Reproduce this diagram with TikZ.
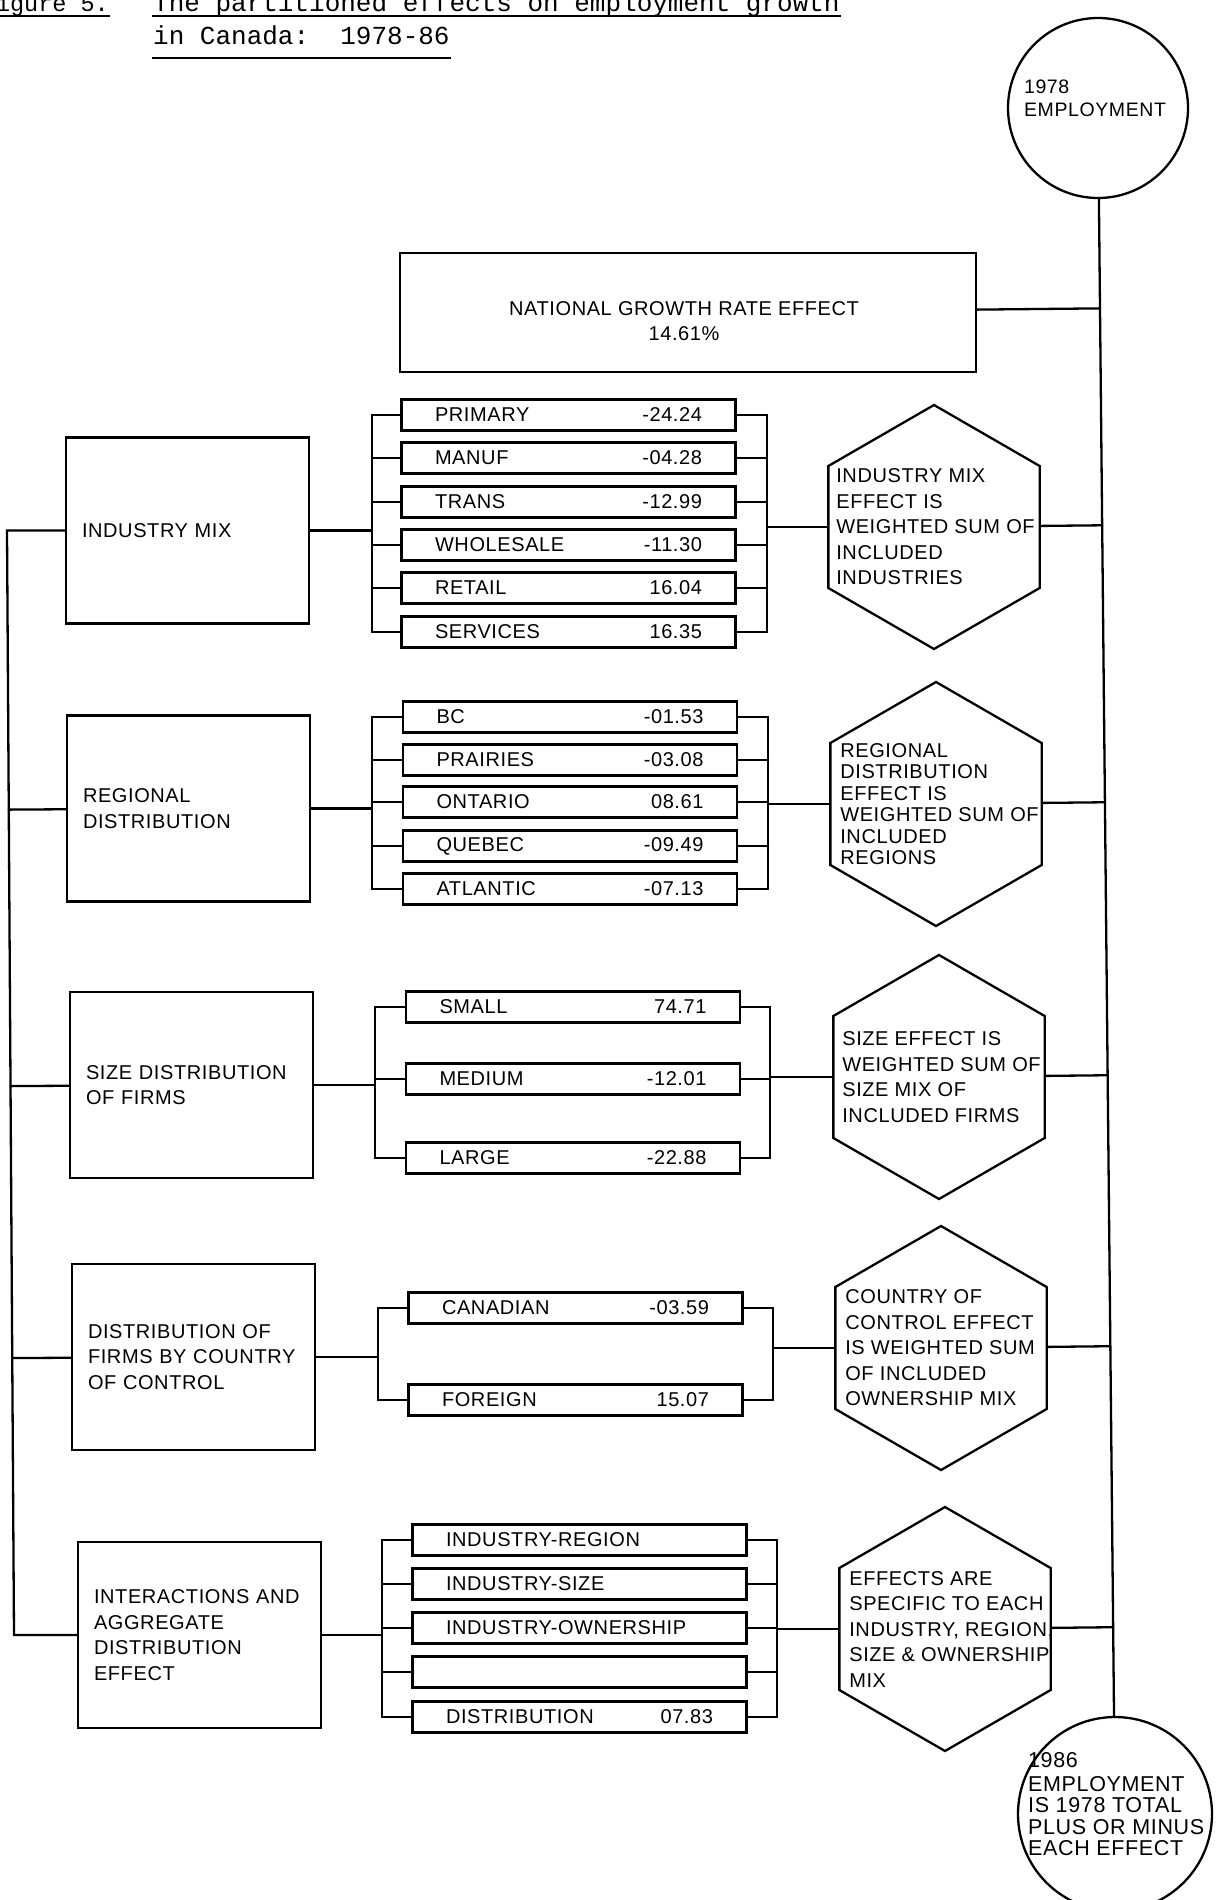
\documentclass[tikz,border=0pt]{standalone}
\usepackage{fontspec}
\setmainfont{Liberation Sans}[LetterSpace=3]
\newfontfamily\titlefont{Liberation Mono}
\usetikzlibrary{shapes.geometric,calc}

\begin{document}
\begin{tikzpicture}[x=1pt, y=-1pt, line width=2.3pt, line cap=round,
	every node/.style={font=\fontsize{20}{25.5}\selectfont},
	titletext/.style={inner sep=0pt, font=\titlefont\fontsize{26}{33}\selectfont},
	mainbox/.style={draw, rectangle, minimum width=243pt, minimum height=186pt, text width=211pt, inner xsep=16pt, align=left},
	subbox/.style={draw, rectangle, minimum height=31pt, text width=267pt, inner xsep=33.5pt, inner ysep=0pt},
	hexshape/.style={draw, regular polygon, regular polygon sides=6, shape border rotate=30, minimum size=244pt, inner sep=0pt},
	hextext/.style={inner sep=0pt, align=left, anchor=west},
	roundshape/.style={draw, circle, inner sep=0pt}]
	\useasboundingbox (0,0) rectangle (1220,1900);
	
	% 1. 标题
	\node[titletext, anchor=base east, font=\titlefont\fontsize{23.5}{33}\selectfont] (fig) at (110,12) {Figure 5.};
	\node[titletext, anchor=base west] (tl1) at (152,12) {The partitioned effects on employment growth};
	\node[titletext, anchor=base west] (tl2) at (152,45) {in Canada:\ \ 1978-86};
	\draw[line width=1.6pt, line cap=butt] ([yshift=-4pt]fig.base west) -- ([yshift=-4pt]fig.base east);
	\draw[line width=1.6pt, line cap=butt] ([yshift=-4pt]tl1.base west) -- ([yshift=-4pt]tl1.base east);
	\draw[line width=1.6pt, line cap=butt] ([yshift=-13pt]tl2.base west) -- ([yshift=-13pt]tl2.base east);
	
	% 2. 两端圆与总线
	\node[roundshape, minimum size=180pt] (e78) at (1098,108) {};
	\node[hextext, font=\fontsize{19.5}{23}\selectfont] (e78t) at (1023,98) {1978\\EMPLOYMENT};
	\node[roundshape, minimum size=194pt] (e86) at (1115,1814) {};
	\node[hextext, font=\fontsize{21.5}{21.5}\selectfont] (e86t) at (1027,1804) {1986\\[2.5pt]EMPLOYMENT\\IS 1978 TOTAL\\PLUS OR MINUS\\EACH EFFECT};
	\draw (e78) -- (e86);
	
	\node[draw, rectangle, minimum width=576pt, minimum height=119pt] (nat) at (688,312.5) {};
	\node[align=center, inner sep=0pt] (natt) at (684,321) {NATIONAL GROWTH RATE EFFECT\\14.61\%};
	\draw (nat) -- ($(e78)!(nat)!(e86)$);
	
	% 3. 左侧主框
	\node[mainbox] (bI) at (187.5,530.5) {INDUSTRY MIX};
	\node[mainbox] (bR) at (188.5,808.5) {REGIONAL\\DISTRIBUTION};
	\node[mainbox] (bS) at (191.5,1085) {SIZE DISTRIBUTION\\OF FIRMS};
	\node[mainbox] (bC) at (193.5,1357) {DISTRIBUTION OF\\FIRMS BY COUNTRY\\OF CONTROL};
	\node[mainbox] (bX) at (199.5,1635) {INTERACTIONS AND\\AGGREGATE\\DISTRIBUTION\\EFFECT};
	\coordinate (lbA) at (7,530.5);
	\coordinate (lbB) at (14,1635);
	\draw (bI) -- (lbA) -- (lbB) -- (bX);
	\draw (bR) -- ($(lbA)!(bR)!(lbB)$);
	\draw (bS) -- ($(lbA)!(bS)!(lbB)$);
	\draw (bC) -- ($(lbA)!(bC)!(lbB)$);
	
	% 4. 六边形说明
	\node[hexshape] (hI) at (934,527) {};
	\node[hextext] (hIt) at ([xshift=8pt]hI.west) {INDUSTRY MIX\\EFFECT IS\\WEIGHTED SUM OF\\INCLUDED\\INDUSTRIES};
	\node[hexshape] (hR) at (936,804) {};
	\node[hextext, font=\fontsize{20}{21.5}\selectfont] (hRt) at ([xshift=10pt]hR.west) {REGIONAL\\DISTRIBUTION\\EFFECT IS\\WEIGHTED SUM OF\\INCLUDED\\REGIONS};
	\node[hexshape] (hS) at (939,1077) {};
	\node[hextext] (hSt) at ([xshift=9pt]hS.west) {SIZE EFFECT IS\\WEIGHTED SUM OF\\SIZE MIX OF\\INCLUDED FIRMS};
	\node[hexshape] (hC) at (941,1348) {};
	\node[hextext] (hCt) at ([xshift=10pt]hC.west) {COUNTRY OF\\CONTROL EFFECT\\IS WEIGHTED SUM\\OF INCLUDED\\OWNERSHIP MIX};
	\node[hexshape] (hX) at (945,1629) {};
	\node[hextext] (hXt) at ([xshift=10pt]hX.west) {EFFECTS ARE\\SPECIFIC TO EACH\\INDUSTRY, REGION,\\SIZE \& OWNERSHIP\\MIX};
	\draw (hI) -- ($(e78)!(hI)!(e86)$);
	\draw (hR) -- ($(e78)!(hR)!(e86)$);
	\draw (hS) -- ($(e78)!(hS)!(e86)$);
	\draw (hC) -- ($(e78)!(hC)!(e86)$);
	\draw (hX) -- ($(e78)!(hX)!(e86)$);
	
	% 5. 产业
	\coordinate (iL) at (372,0);
	\coordinate (iR) at (767,0);
	\node[subbox] (i1) at (568.5,415) {PRIMARY\hfill-24.24};
	\node[subbox] (i2) at (568.5,458) {MANUF\hfill-04.28};
	\node[subbox] (i3) at (568.5,502) {TRANS\hfill-12.99};
	\node[subbox] (i4) at (568.5,545) {WHOLESALE\hfill-11.30};
	\node[subbox] (i5) at (568.5,588) {RETAIL\hfill16.04};
	\node[subbox] (i6) at (568.5,632) {SERVICES\hfill16.35};
	\draw (iL|-i1) -- (i1) -- (iR|-i1);
	\draw (iL|-i2) -- (i2) -- (iR|-i2);
	\draw (iL|-i3) -- (i3) -- (iR|-i3);
	\draw (iL|-i4) -- (i4) -- (iR|-i4);
	\draw (iL|-i5) -- (i5) -- (iR|-i5);
	\draw (iL|-i6) -- (i6) -- (iR|-i6);
	\draw (iL|-i1) -- (iL|-i6);
	\draw (iR|-i1) -- (iR|-i6);
	\draw (bI) -- (iL|-bI);
	\draw (iR|-hI) -- (hI);
	
	% 6. 地区
	\coordinate (rL) at (372,0);
	\coordinate (rR) at (768,0);
	\node[subbox] (r1) at (570,717) {BC\hfill-01.53};
	\node[subbox] (r2) at (570,760) {PRAIRIES\hfill-03.08};
	\node[subbox] (r3) at (570,802) {ONTARIO\hfill08.61};
	\node[subbox] (r4) at (570,846) {QUEBEC\hfill-09.49};
	\node[subbox] (r5) at (570,889) {ATLANTIC\hfill-07.13};
	\draw (rL|-r1) -- (r1) -- (rR|-r1);
	\draw (rL|-r2) -- (r2) -- (rR|-r2);
	\draw (rL|-r3) -- (r3) -- (rR|-r3);
	\draw (rL|-r4) -- (r4) -- (rR|-r4);
	\draw (rL|-r5) -- (r5) -- (rR|-r5);
	\draw (rL|-r1) -- (rL|-r5);
	\draw (rR|-r1) -- (rR|-r5);
	\draw (bR) -- (rL|-bR);
	\draw (rR|-hR) -- (hR);
	
	% 7. 规模
	\coordinate (sL) at (375,0);
	\coordinate (sR) at (770,0);
	\node[subbox] (s1) at (573,1007) {SMALL\hfill74.71};
	\node[subbox] (s2) at (573,1079) {MEDIUM\hfill-12.01};
	\node[subbox] (s3) at (573,1158) {LARGE\hfill-22.88};
	\draw (sL|-s1) -- (s1) -- (sR|-s1);
	\draw (sL|-s2) -- (s2) -- (sR|-s2);
	\draw (sL|-s3) -- (s3) -- (sR|-s3);
	\draw (sL|-s1) -- (sL|-s3);
	\draw (sR|-s1) -- (sR|-s3);
	\draw (bS) -- (sL|-bS);
	\draw (sR|-hS) -- (hS);
	
	% 8. 控制国
	\coordinate (cL) at (378,0);
	\coordinate (cR) at (773,0);
	\node[subbox] (c1) at (575.5,1308) {CANADIAN\hfill-03.59};
	\node[subbox] (c2) at (575.5,1400) {FOREIGN\hfill15.07};
	\draw (cL|-c1) -- (c1) -- (cR|-c1);
	\draw (cL|-c2) -- (c2) -- (cR|-c2);
	\draw (cL|-c1) -- (cL|-c2);
	\draw (cR|-c1) -- (cR|-c2);
	\draw (bC) -- (cL|-bC);
	\draw (cR|-hC) -- (hC);
	
	% 9. 交互项
	\coordinate (xL) at (382,0);
	\coordinate (xR) at (777,0);
	\node[subbox] (x1) at (579.5,1540) {INDUSTRY-REGION};
	\node[subbox] (x2) at (579.5,1584) {INDUSTRY-SIZE};
	\node[subbox] (x3) at (579.5,1628) {INDUSTRY-OWNERSHIP};
	\node[subbox] (x4) at (579.5,1672) {};
	\node[subbox] (x5) at (579.5,1717) {DISTRIBUTION\hfill07.83};
	\draw (xL|-x1) -- (x1) -- (xR|-x1);
	\draw (xL|-x2) -- (x2) -- (xR|-x2);
	\draw (xL|-x3) -- (x3) -- (xR|-x3);
	\draw (xL|-x4) -- (x4) -- (xR|-x4);
	\draw (xL|-x5) -- (x5) -- (xR|-x5);
	\draw (xL|-x1) -- (xL|-x5);
	\draw (xR|-x1) -- (xR|-x5);
	\draw (bX) -- (xL|-bX);
	\draw (xR|-hX) -- (hX);
\end{tikzpicture}
\end{document}
